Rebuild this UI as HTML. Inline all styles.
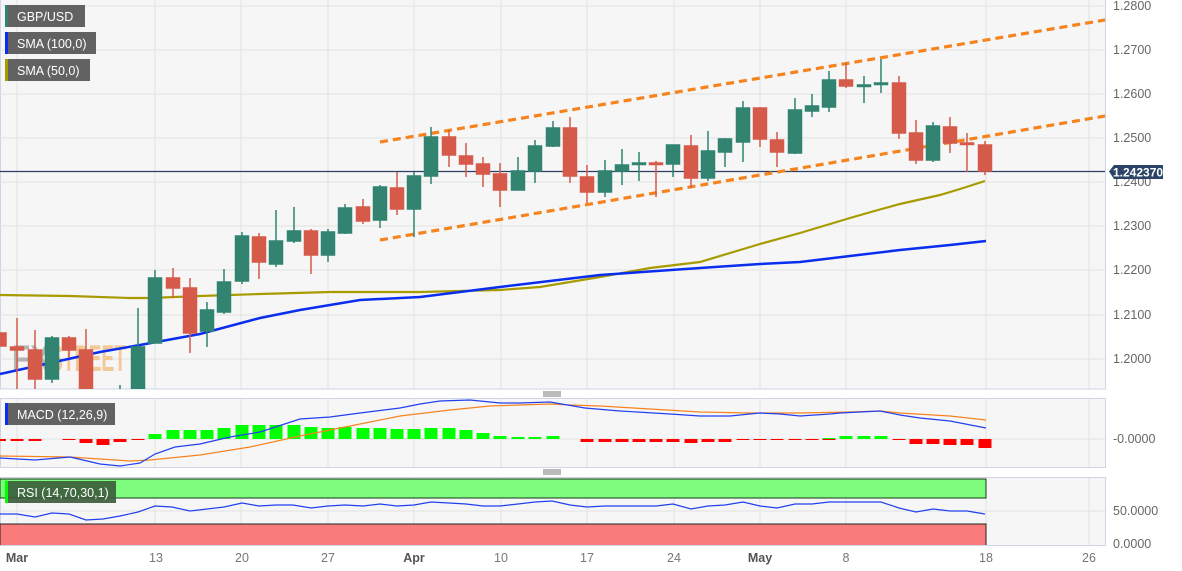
<!DOCTYPE html>
<html><head><meta charset="utf-8"><style>
html,body{margin:0;padding:0;background:#fff;}
svg{display:block;font-family:"Liberation Sans",sans-serif;}
</style></head><body>
<svg width="1182" height="571" viewBox="0 0 1182 571" xmlns="http://www.w3.org/2000/svg">
<defs>
<clipPath id="cm"><rect x="0" y="0" width="1105" height="389"/></clipPath>
<clipPath id="cd"><rect x="0" y="398" width="1105" height="69"/></clipPath>
<clipPath id="cr"><rect x="0" y="477" width="1105" height="68"/></clipPath>
</defs>
<rect x="0" y="0" width="1182" height="571" fill="#fff"/>
<!-- panels -->
<rect x="0.5" y="-1" width="1105" height="390" fill="#f6f6f6" stroke="#cfd5e6"/>
<rect x="0.5" y="398.5" width="1105" height="69" fill="#f6f6f6" stroke="#cfd5e6"/>
<rect x="0.5" y="477.5" width="1105" height="68" fill="#f6f6f6" stroke="#cfd5e6"/>
<!-- grid -->
<g stroke="#e2e2e2" stroke-width="1">
<line x1="0" y1="6" x2="1105" y2="6"/><line x1="0" y1="50" x2="1105" y2="50"/><line x1="0" y1="94" x2="1105" y2="94"/><line x1="0" y1="138" x2="1105" y2="138"/><line x1="0" y1="182" x2="1105" y2="182"/><line x1="0" y1="226" x2="1105" y2="226"/><line x1="0" y1="270" x2="1105" y2="270"/><line x1="0" y1="315" x2="1105" y2="315"/><line x1="0" y1="359" x2="1105" y2="359"/>
<line x1="0" y1="439" x2="1105" y2="439"/><line x1="0" y1="511" x2="1105" y2="511"/>
<g id="vg">
<line x1="17" y1="0" x2="17" y2="545"/><line x1="155" y1="0" x2="155" y2="545"/><line x1="241" y1="0" x2="241" y2="545"/><line x1="328" y1="0" x2="328" y2="545"/><line x1="414" y1="0" x2="414" y2="545"/><line x1="501" y1="0" x2="501" y2="545"/><line x1="587" y1="0" x2="587" y2="545"/><line x1="674" y1="0" x2="674" y2="545"/><line x1="760" y1="0" x2="760" y2="545"/><line x1="846" y1="0" x2="846" y2="545"/><line x1="986" y1="0" x2="986" y2="545"/><line x1="1089" y1="0" x2="1089" y2="545"/>
</g>
</g>
<rect x="0" y="389.5" width="1105" height="8.5" fill="#fff"/>
<rect x="0" y="468" width="1105" height="9" fill="#fff"/>
<line x1="0" y1="389" x2="1105" y2="389" stroke="#cfd5e6"/>
<line x1="0" y1="398.5" x2="1105" y2="398.5" stroke="#cfd5e6"/>
<line x1="0" y1="467.5" x2="1105" y2="467.5" stroke="#cfd5e6"/>
<line x1="0" y1="477.5" x2="1105" y2="477.5" stroke="#cfd5e6"/>
<g stroke="#777" stroke-width="1"><line x1="543" y1="392" x2="561" y2="392"/><line x1="543" y1="394" x2="561" y2="394"/><line x1="543" y1="396" x2="561" y2="396"/>
<line x1="543" y1="470" x2="561" y2="470"/><line x1="543" y1="472" x2="561" y2="472"/><line x1="543" y1="474" x2="561" y2="474"/></g>

<g clip-path="url(#cm)">
<!-- watermark -->
<text x="12" y="371" font-size="37" font-weight="bold" fill="#a9a9a9" opacity="0.85" textLength="38" lengthAdjust="spacingAndGlyphs">FX</text>
<text x="50" y="371" font-size="37" font-weight="bold" fill="#f2c48c" opacity="0.9" textLength="76" lengthAdjust="spacingAndGlyphs">STREET</text>
<!-- SMA50 -->
<polyline fill="none" stroke="#a89b00" stroke-width="2.2" points="0,295 70,296 130,298 150,298 200,296 260,294 330,292 420,292 500,290 540,287 600,277 650,268 700,262 760,244 800,233 850,218 878,210 900,204 940,195 960,189 985,181"/>
<!-- SMA100 -->
<polyline fill="none" stroke="#0a2ef0" stroke-width="2.5" points="0,374 50,363 100,352 140,345 200,334 260,318 300,310 360,300 420,297 500,287 600,275 700,268 760,264 800,262 850,256 900,250 950,245 986,241"/>
<!-- price line -->
<line x1="0" y1="171.5" x2="1105" y2="171.5" stroke="#2b3f63" stroke-width="1.3"/>
<!-- trendlines -->
<g stroke="#f5841f" stroke-width="3.2" stroke-dasharray="8,5" fill="none">
<line x1="380" y1="142" x2="1105" y2="20"/>
<line x1="380" y1="240" x2="1105" y2="116"/>
</g>
<!-- candles -->
<g stroke-width="1.5">
<g stroke="#d65a4a" fill="#d65a4a">
<rect x="-7" y="333" width="13" height="13"/>
<line x1="17" y1="318" x2="17" y2="390"/><rect x="10.5" y="347" width="13" height="3"/>
<line x1="35" y1="330" x2="35" y2="390"/><rect x="28.5" y="350" width="13" height="29"/>
<line x1="69" y1="336" x2="69" y2="357"/><rect x="62.5" y="338" width="13" height="12"/>
<line x1="86" y1="329" x2="86" y2="390"/><rect x="79.5" y="350" width="13" height="41"/>
<line x1="173" y1="268" x2="173" y2="298"/><rect x="166.5" y="278" width="13" height="10"/>
<line x1="190" y1="278" x2="190" y2="353"/><rect x="183.5" y="288" width="13" height="45"/>
<line x1="259" y1="233" x2="259" y2="279"/><rect x="252.5" y="237" width="13" height="25"/>
<line x1="311" y1="229" x2="311" y2="274"/><rect x="304.5" y="231" width="13" height="24"/>
<line x1="363" y1="199" x2="363" y2="224"/><rect x="356.5" y="207" width="13" height="14"/>
<line x1="397" y1="172" x2="397" y2="215"/><rect x="390.5" y="188" width="13" height="21"/>
<line x1="449" y1="130" x2="449" y2="167"/><rect x="442.5" y="137" width="13" height="18"/>
<line x1="466" y1="143" x2="466" y2="177"/><rect x="459.5" y="156" width="13" height="8"/>
<line x1="483" y1="157" x2="483" y2="187"/><rect x="476.5" y="164" width="13" height="10"/>
<line x1="500" y1="163" x2="500" y2="207"/><rect x="493.5" y="174" width="13" height="16"/>
<line x1="570" y1="117" x2="570" y2="183"/><rect x="563.5" y="128" width="13" height="48"/>
<line x1="587" y1="165" x2="587" y2="203"/><rect x="580.5" y="177" width="13" height="15"/>
<line x1="656" y1="161" x2="656" y2="197"/><rect x="649.5" y="163" width="13" height="1.5"/>
<line x1="691" y1="135" x2="691" y2="188"/><rect x="684.5" y="146" width="13" height="32"/>
<line x1="760" y1="108" x2="760" y2="147"/><rect x="753.5" y="108" width="13" height="31"/>
<line x1="777" y1="132" x2="777" y2="167"/><rect x="770.5" y="140" width="13" height="12"/>
<line x1="846" y1="63" x2="846" y2="88"/><rect x="839.5" y="80" width="13" height="6"/>
<line x1="899" y1="76" x2="899" y2="139"/><rect x="892.5" y="83" width="13" height="50"/>
<line x1="916" y1="120" x2="916" y2="164"/><rect x="909.5" y="133" width="13" height="27"/>
<line x1="950" y1="117" x2="950" y2="153"/><rect x="943.5" y="127" width="13" height="16"/>
<line x1="967" y1="133" x2="967" y2="172"/><rect x="960.5" y="143" width="13" height="1.5"/>
<line x1="985" y1="141" x2="985" y2="175"/><rect x="978.5" y="145" width="13" height="26"/>
</g>
<g stroke="#2f8370" fill="#32836f">
<line x1="52" y1="336" x2="52" y2="383"/><rect x="45.5" y="338" width="13" height="41"/>
<line x1="120" y1="385" x2="120" y2="390"/>
<line x1="138" y1="308" x2="138" y2="390"/><rect x="131.5" y="347" width="13" height="44"/>
<line x1="155" y1="270" x2="155" y2="343"/><rect x="148.5" y="278" width="13" height="65"/>
<line x1="207" y1="302" x2="207" y2="347"/><rect x="200.5" y="310" width="13" height="21"/>
<line x1="224" y1="269" x2="224" y2="314"/><rect x="217.5" y="282" width="13" height="30"/>
<line x1="242" y1="232" x2="242" y2="284"/><rect x="235.5" y="236" width="13" height="45"/>
<line x1="276" y1="210" x2="276" y2="267"/><rect x="269.5" y="241" width="13" height="23"/>
<line x1="294" y1="207" x2="294" y2="243"/><rect x="287.5" y="231" width="13" height="10"/>
<line x1="328" y1="229" x2="328" y2="262"/><rect x="321.5" y="232" width="13" height="23"/>
<line x1="345" y1="204" x2="345" y2="234"/><rect x="338.5" y="208" width="13" height="25"/>
<line x1="380" y1="185" x2="380" y2="228"/><rect x="373.5" y="187" width="13" height="33"/>
<line x1="414" y1="172" x2="414" y2="237"/><rect x="407.5" y="176" width="13" height="33"/>
<line x1="431" y1="127" x2="431" y2="184"/><rect x="424.5" y="137" width="13" height="39"/>
<line x1="518" y1="157" x2="518" y2="190"/><rect x="511.5" y="171" width="13" height="19"/>
<line x1="535" y1="140" x2="535" y2="183"/><rect x="528.5" y="146" width="13" height="25"/>
<line x1="553" y1="121" x2="553" y2="147"/><rect x="546.5" y="128" width="13" height="18"/>
<line x1="605" y1="160" x2="605" y2="197"/><rect x="598.5" y="171" width="13" height="21"/>
<line x1="622" y1="149" x2="622" y2="185"/><rect x="615.5" y="165" width="13" height="6"/>
<line x1="639" y1="152" x2="639" y2="181"/><rect x="632.5" y="163" width="13" height="1.5"/>
<line x1="673" y1="145" x2="673" y2="177"/><rect x="666.5" y="145" width="13" height="19"/>
<line x1="708" y1="131" x2="708" y2="181"/><rect x="701.5" y="151" width="13" height="27"/>
<line x1="725" y1="138" x2="725" y2="167"/><rect x="718.5" y="139" width="13" height="13"/>
<line x1="743" y1="101" x2="743" y2="162"/><rect x="736.5" y="108" width="13" height="34"/>
<line x1="795" y1="98" x2="795" y2="154"/><rect x="788.5" y="110" width="13" height="43"/>
<line x1="812" y1="94" x2="812" y2="117"/><rect x="805.5" y="106" width="13" height="5"/>
<line x1="829" y1="71" x2="829" y2="112"/><rect x="822.5" y="80" width="13" height="27"/>
<line x1="864" y1="76" x2="864" y2="103"/><rect x="857.5" y="85" width="13" height="1.5"/>
<line x1="881" y1="59" x2="881" y2="93"/><rect x="874.5" y="83" width="13" height="1.5"/>
<line x1="933" y1="122" x2="933" y2="162"/><rect x="926.5" y="126" width="13" height="34"/>
</g>
</g>
</g>

<!-- MACD histogram -->
<g clip-path="url(#cd)">
<g fill="#ff0000">
<rect x="0" y="439" width="6" height="2"/><rect x="10.5" y="439" width="13" height="2"/><rect x="28.5" y="439" width="13" height="2"/><rect x="62.5" y="439" width="13" height="1"/><rect x="79.5" y="439" width="13" height="4"/><rect x="96.5" y="439" width="13" height="6"/><rect x="113.5" y="439" width="13" height="3"/><rect x="131.5" y="439" width="13" height="1"/>
<rect x="580.5" y="439" width="13" height="3"/><rect x="598.5" y="439" width="13" height="3"/><rect x="615.5" y="439" width="13" height="3"/><rect x="632.5" y="439" width="13" height="3"/><rect x="649.5" y="439" width="13" height="3"/><rect x="666.5" y="439" width="13" height="3"/><rect x="684.5" y="439" width="13" height="4"/><rect x="701.5" y="439" width="13" height="3"/><rect x="718.5" y="439" width="13" height="3"/><rect x="736.5" y="439" width="13" height="1"/><rect x="753.5" y="439" width="13" height="1"/><rect x="770.5" y="439" width="13" height="1"/><rect x="788.5" y="439" width="13" height="1"/><rect x="805.5" y="439" width="13" height="1"/><rect x="822.5" y="439" width="13" height="1"/><rect x="892.5" y="439" width="13" height="1"/>
<rect x="909.5" y="439" width="13" height="5"/><rect x="926.5" y="439" width="13" height="5"/><rect x="943.5" y="439" width="13" height="6"/><rect x="960.5" y="439" width="13" height="6"/><rect x="978.5" y="439" width="13" height="9"/>
</g>
<g fill="#00ff00">
<rect x="148.5" y="434" width="13" height="5"/><rect x="166.5" y="430" width="13" height="9"/><rect x="183.5" y="430" width="13" height="9"/><rect x="200.5" y="430" width="13" height="9"/><rect x="217.5" y="428" width="13" height="11"/><rect x="235.5" y="425" width="13" height="14"/><rect x="252.5" y="425" width="13" height="14"/><rect x="269.5" y="425" width="13" height="14"/><rect x="287.5" y="425" width="13" height="14"/><rect x="304.5" y="427" width="13" height="12"/><rect x="321.5" y="428" width="13" height="11"/><rect x="338.5" y="427" width="13" height="12"/><rect x="356.5" y="428" width="13" height="11"/><rect x="373.5" y="428" width="13" height="11"/><rect x="390.5" y="429" width="13" height="10"/><rect x="407.5" y="429" width="13" height="10"/><rect x="424.5" y="428" width="13" height="11"/><rect x="442.5" y="428" width="13" height="11"/><rect x="459.5" y="430" width="13" height="9"/><rect x="476.5" y="433" width="13" height="6"/><rect x="493.5" y="436" width="13" height="3"/><rect x="511.5" y="437" width="13" height="2"/><rect x="528.5" y="437" width="13" height="2"/><rect x="546.5" y="436" width="13" height="3"/>
<rect x="839.5" y="436" width="13" height="3"/><rect x="857.5" y="436" width="13" height="3"/><rect x="874.5" y="436" width="13" height="3"/><rect x="822.5" y="438" width="13" height="1"/>
</g>
<polyline fill="none" stroke="#f5841f" stroke-width="1.2" points="0,456 70,457 130,461 150,460 200,455 250,447 300,436 340,428 400,416 450,410 490,406 550,404 570,405 600,406 650,409 700,412 750,413 800,413 850,412 880,411 900,413 950,416 986,420"/>
<polyline fill="none" stroke="#2140f0" stroke-width="1.2" points="0,458 35,460 70,457 100,464 120,466 140,463 155,454 175,447 200,444 230,437 260,432 300,419 330,417 360,413 400,408 420,404 440,401 470,400 500,403 520,403 550,402 585,408 620,411 670,414 700,416 730,416 760,413 780,414 800,416 830,414 840,413 880,411 900,415 920,418 950,421 986,428"/>
</g>

<!-- RSI -->
<g clip-path="url(#cr)">
<rect x="0" y="479" width="986" height="19" fill="#7cfb7c" stroke="#1a3a1a" stroke-width="1"/>
<rect x="0" y="524" width="986" height="22" fill="#fa7b7b" stroke="#222" stroke-width="1"/>
<polyline fill="none" stroke="#2140f0" stroke-width="1.2" points="0,514 17,514 35,517 52,513 69,514 86,520 103,519 120,516 138,512 155,506 172,507 190,511 207,509 224,507 242,503 259,506 276,505 293,505 311,508 328,506 345,505 363,506 380,504 397,506 414,505 431,502 449,503 466,504 483,506 500,506 518,504 535,502 552,501 570,505 587,507 605,506 622,506 639,506 656,506 673,504 691,509 708,506 725,505 743,502 760,506 777,508 795,504 812,504 829,502 846,502 864,502 881,502 899,508 916,512 933,509 950,511 967,511 985,514"/>
</g>

<!-- legends -->
<g font-size="12.5" fill="#fff">
<rect x="5" y="5" width="80" height="22" fill="#5a5a5a" opacity="0.95"/><rect x="5" y="5" width="3" height="22" fill="#2f8370"/><text x="17" y="21">GBP/USD</text>
<rect x="5" y="32" width="91" height="22" fill="#5a5a5a" opacity="0.95"/><rect x="5" y="32" width="3" height="22" fill="#0a2ef0"/><text x="17" y="48">SMA (100,0)</text>
<rect x="5" y="59" width="85" height="22" fill="#5a5a5a" opacity="0.95"/><rect x="5" y="59" width="3" height="22" fill="#a89b00"/><text x="17" y="75">SMA (50,0)</text>
<rect x="5" y="403" width="110" height="22" fill="#5a5a5a" opacity="0.95"/><rect x="5" y="403" width="3" height="22" fill="#0a2ef0"/><text x="17" y="419">MACD (12,26,9)</text>
<rect x="5" y="481" width="111" height="22" fill="#3a5a3a" opacity="0.9"/><rect x="5" y="481" width="3" height="22" fill="#00ff00"/><text x="17" y="497">RSI (14,70,30,1)</text>
</g>

<!-- right axis -->
<g font-size="12.5" fill="#666">
<text x="1113" y="10">1.2800</text><text x="1113" y="54">1.2700</text><text x="1113" y="98">1.2600</text><text x="1113" y="142">1.2500</text><text x="1113" y="186">1.2400</text><text x="1113" y="230">1.2300</text><text x="1113" y="274">1.2200</text><text x="1113" y="319">1.2100</text><text x="1113" y="363">1.2000</text>
<text x="1113" y="443">-0.0000</text><text x="1113" y="515">50.0000</text><text x="1113" y="548">0.0000</text>
</g>
<path d="M1109,171.5 L1114,165 L1163,165 L1163,179 L1114,179 Z" fill="#2b4366"/>
<text x="1113" y="176.5" font-size="12" font-weight="bold" fill="#fff">1.242370</text>

<!-- bottom axis -->
<g font-size="12.5" fill="#777" text-anchor="middle">
<text x="17" y="562" font-weight="bold" fill="#555">Mar</text><text x="156" y="562">13</text><text x="242" y="562">20</text><text x="328" y="562">27</text><text x="414" y="562" font-weight="bold" fill="#555">Apr</text><text x="501" y="562">10</text><text x="587" y="562">17</text><text x="674" y="562">24</text><text x="760" y="562" font-weight="bold" fill="#555">May</text><text x="846" y="562">8</text><text x="986" y="562">18</text><text x="1089" y="562">26</text>
</g>
</svg>
</body></html>
